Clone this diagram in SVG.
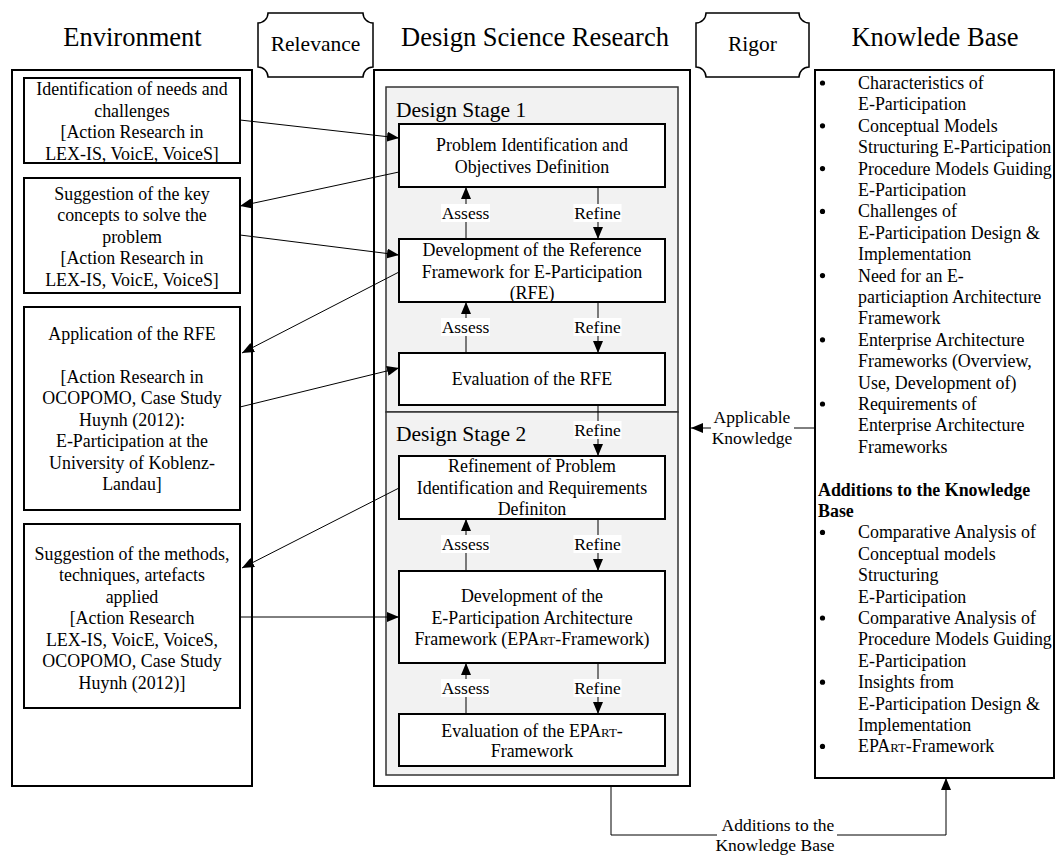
<svg xmlns="http://www.w3.org/2000/svg" width="1056" height="855" viewBox="0 0 1056 855">
  <style>
    .t { font-family: "Liberation Serif", "Times New Roman", serif; font-size: 17.9px; fill: #000; }
    .c { text-anchor: middle; }
    .h { font-size: 26.5px; }
    .s { font-size: 21.5px; }
    .l { font-size: 17.5px; }
    .b { font-weight: bold; }
    .sc { font-size: 12.9px; }
    .outer { fill: #fff; stroke: #000; stroke-width: 2; }
    .box { fill: #fff; stroke: #000; stroke-width: 2; }
    .stage { fill: #f2f2f2; stroke: #333; stroke-width: 1.5; }
    .plaque { fill: #fff; stroke: #000; stroke-width: 1.5; }
    .con { fill: none; stroke: #000; stroke-width: 1; }
    .arr { marker-end: url(#head); }
    .bg { fill: #fff; }
  </style>
  <defs>
    <marker id="head" markerUnits="userSpaceOnUse" markerWidth="12" markerHeight="10" refX="12" refY="5" orient="auto">
      <path d="M0,0 L12,5 L0,10 Z" fill="#000"/>
    </marker>
  </defs>

  <rect width="1056" height="855" fill="#fff"/>

  <!-- column headings -->
  <g id="headings">
    <text class="t h c" x="132.5" y="46">Environment</text>
    <text class="t h c" x="535" y="46">Design Science Research</text>
    <text class="t h c" x="935" y="46">Knowlede Base</text>
  </g>

  <!-- plaque labels between columns -->
  <g id="relevance">
    <path class="plaque" d="M268,13 L363,13 A10,10 0 0 0 373,23 L373,67 A10,10 0 0 0 363,77 L268,77 A10,10 0 0 0 258,67 L258,23 A10,10 0 0 0 268,13 Z"/>
    <text class="t s c" x="315.5" y="51">Relevance</text>
  </g>
  <g id="rigor">
    <path class="plaque" d="M706,13 L799,13 A10,10 0 0 0 809,23 L809,67 A10,10 0 0 0 799,77 L706,77 A10,10 0 0 0 696,67 L696,23 A10,10 0 0 0 706,13 Z"/>
    <text class="t s c" x="752.5" y="51">Rigor</text>
  </g>

  <!-- containers -->
  <g id="environment">
    <rect class="outer" x="12" y="70" width="240" height="716"/>
  </g>
  <g id="dsr">
    <rect class="outer" x="374" y="70" width="316" height="716"/>
  </g>
  <g id="stage1">
    <rect class="stage" x="386" y="87" width="292" height="325"/>
    <text class="t s" x="396" y="117">Design Stage 1</text>
  </g>
  <g id="stage2">
    <rect class="stage" x="386" y="412" width="292" height="363"/>
    <text class="t s" x="396" y="441">Design Stage 2</text>
  </g>

  <!-- connectors -->
  <g id="connectors">
    <path class="con arr" d="M240,120 L399,138"/>
    <path class="con arr" d="M399,172 L240,206"/>
    <path class="con arr" d="M240,235 L399,255"/>
    <path class="con arr" d="M399,272 L242,353"/>
    <path class="con arr" d="M240,407 L399,368"/>
    <path class="con arr" d="M399,488 L242,568"/>
    <path class="con arr" d="M240,617 L399,617"/>

    <path class="con arr" d="M466,239 L466,187"/>
    <path class="con arr" d="M598,187 L598,239"/>
    <path class="con arr" d="M466,353 L466,302"/>
    <path class="con arr" d="M598,302 L598,353"/>
    <path class="con arr" d="M598,405 L598,456"/>
    <path class="con arr" d="M466,571 L466,519"/>
    <path class="con arr" d="M598,519 L598,571"/>
    <path class="con arr" d="M466,714 L466,663"/>
    <path class="con arr" d="M598,663 L598,714"/>

    <path class="con arr" d="M815,428 L691,428"/>
    <path class="con arr" d="M611,786 L611,835 L946,835 L946,778"/>

    <!-- connector labels -->
    <rect class="bg" x="441" y="204" width="49" height="18"/>
    <text class="t l c" x="465.5" y="218.5">Assess</text>
    <rect class="bg" x="573.5" y="204" width="48" height="18"/>
    <text class="t l c" x="597.5" y="218.5">Refine</text>

    <rect class="bg" x="441" y="318" width="49" height="18"/>
    <text class="t l c" x="465.5" y="332.8">Assess</text>
    <rect class="bg" x="573.5" y="318" width="48" height="18"/>
    <text class="t l c" x="597.5" y="332.8">Refine</text>

    <rect class="bg" x="573.5" y="421" width="48" height="18"/>
    <text class="t l c" x="597.5" y="435.5">Refine</text>

    <rect class="bg" x="441" y="535" width="49" height="18"/>
    <text class="t l c" x="465.5" y="549.8">Assess</text>
    <rect class="bg" x="573.5" y="535" width="48" height="18"/>
    <text class="t l c" x="597.5" y="549.8">Refine</text>

    <rect class="bg" x="441" y="679" width="49" height="18"/>
    <text class="t l c" x="465.5" y="693.8">Assess</text>
    <rect class="bg" x="573.5" y="679" width="48" height="18"/>
    <text class="t l c" x="597.5" y="693.8">Refine</text>

    <rect class="bg" x="711" y="408" width="83" height="40"/>
    <text class="t l c" x="752" y="423">Applicable</text>
    <text class="t l c" x="752" y="443.5">Knowledge</text>

    <rect class="bg" x="717" y="815" width="120" height="40"/>
    <text class="t l c" x="778" y="830.5">Additions to the</text>
    <text class="t l c" x="775" y="851">Knowledge Base</text>
  </g>

  <!-- environment nodes -->
  <g id="env-needs">
    <rect class="box" x="24" y="78" width="216" height="85"/>
    <text class="t c" x="132" y="95">Identification of needs and</text>
    <text class="t c" x="132" y="116.5">challenges</text>
    <text class="t c" x="132" y="138">[Action Research in</text>
    <text class="t c" x="132" y="159.5">LEX-IS, VoicE, VoiceS]</text>
  </g>
  <g id="env-concepts">
    <rect class="box" x="24" y="178" width="216" height="115"/>
    <text class="t c" x="132" y="199.5">Suggestion of the key</text>
    <text class="t c" x="132" y="221">concepts to solve the</text>
    <text class="t c" x="132" y="242.5">problem</text>
    <text class="t c" x="132" y="264">[Action Research in</text>
    <text class="t c" x="132" y="285.5">LEX-IS, VoicE, VoiceS]</text>
  </g>
  <g id="env-application">
    <rect class="box" x="24" y="307" width="216" height="203"/>
    <text class="t c" x="132" y="339.5">Application of the RFE</text>
    <text class="t c" x="132" y="382.5">[Action Research in</text>
    <text class="t c" x="132" y="404">OCOPOMO, Case Study</text>
    <text class="t c" x="132" y="425.5">Huynh (2012):</text>
    <text class="t c" x="132" y="447">E-Participation at the</text>
    <text class="t c" x="132" y="468.5">University of Koblenz-</text>
    <text class="t c" x="132" y="490">Landau]</text>
  </g>
  <g id="env-methods">
    <rect class="box" x="24" y="524" width="216" height="184"/>
    <text class="t c" x="132" y="559.5">Suggestion of the methods,</text>
    <text class="t c" x="132" y="581">techniques, artefacts</text>
    <text class="t c" x="132" y="602.5">applied</text>
    <text class="t c" x="132" y="624">[Action Research</text>
    <text class="t c" x="132" y="645.5">LEX-IS, VoicE, VoiceS,</text>
    <text class="t c" x="132" y="667">OCOPOMO, Case Study</text>
    <text class="t c" x="132" y="688.5">Huynh (2012)]</text>
  </g>

  <!-- design science research nodes -->
  <g id="problem-identification">
    <rect class="box" x="399" y="124" width="266" height="63"/>
    <text class="t c" x="532" y="151">Problem Identification and</text>
    <text class="t c" x="532" y="172.5">Objectives Definition</text>
  </g>
  <g id="rfe-development">
    <rect class="box" x="399" y="239" width="266" height="63"/>
    <text class="t c" x="532" y="256">Development of the Reference</text>
    <text class="t c" x="532" y="277.5">Framework for E-Participation</text>
    <text class="t c" x="532" y="299">(RFE)</text>
  </g>
  <g id="rfe-evaluation">
    <rect class="box" x="399" y="353" width="266" height="52"/>
    <text class="t c" x="532" y="385">Evaluation of the RFE</text>
  </g>
  <g id="problem-refinement">
    <rect class="box" x="399" y="456" width="266" height="63"/>
    <text class="t c" x="532" y="472">Refinement of Problem</text>
    <text class="t c" x="532" y="493.5">Identification and Requirements</text>
    <text class="t c" x="532" y="515">Definiton</text>
  </g>
  <g id="epart-development">
    <rect class="box" x="399" y="571" width="266" height="92"/>
    <text class="t c" x="532" y="602">Development of the</text>
    <text class="t c" x="532" y="623.5">E-Participation Architecture</text>
    <text class="t c" x="532" y="645">Framework (EPA<tspan class="sc">RT</tspan>-Framework)</text>
  </g>
  <g id="epart-evaluation">
    <rect class="box" x="399" y="714" width="266" height="52"/>
    <text class="t c" x="532" y="736.5">Evaluation of the EPA<tspan class="sc">RT</tspan>-</text>
    <text class="t c" x="532" y="757">Framework</text>
  </g>

  <!-- knowledge base -->
  <g id="knowledge-base">
    <rect class="outer" x="815" y="70" width="239" height="708"/>
    <g fill="#000">
      <circle cx="822.5" cy="83" r="2.6"/>
      <circle cx="822.5" cy="125.8" r="2.6"/>
      <circle cx="822.5" cy="168.6" r="2.6"/>
      <circle cx="822.5" cy="211.4" r="2.6"/>
      <circle cx="822.5" cy="275.6" r="2.6"/>
      <circle cx="822.5" cy="339.8" r="2.6"/>
      <circle cx="822.5" cy="404" r="2.6"/>
      <circle cx="822.5" cy="532.4" r="2.6"/>
      <circle cx="822.5" cy="618" r="2.6"/>
      <circle cx="822.5" cy="682.2" r="2.6"/>
      <circle cx="822.5" cy="746.4" r="2.6"/>
    </g>
    <text class="t" x="858" y="89">Characteristics of</text>
    <text class="t" x="858" y="110.4">E-Participation</text>
    <text class="t" x="858" y="131.8">Conceptual Models</text>
    <text class="t" x="858" y="153.2">Structuring E-Participation</text>
    <text class="t" x="858" y="174.6">Procedure Models Guiding</text>
    <text class="t" x="858" y="196">E-Participation</text>
    <text class="t" x="858" y="217.4">Challenges of</text>
    <text class="t" x="858" y="238.8">E-Participation Design &amp;</text>
    <text class="t" x="858" y="260.2">Implementation</text>
    <text class="t" x="858" y="281.6">Need for an E-</text>
    <text class="t" x="858" y="303">particiaption Architecture</text>
    <text class="t" x="858" y="324.4">Framework</text>
    <text class="t" x="858" y="345.8">Enterprise Architecture</text>
    <text class="t" x="858" y="367.2">Frameworks (Overview,</text>
    <text class="t" x="858" y="388.6">Use, Development of)</text>
    <text class="t" x="858" y="410">Requirements of</text>
    <text class="t" x="858" y="431.4">Enterprise Architecture</text>
    <text class="t" x="858" y="452.8">Frameworks</text>
    <text class="t b" x="818" y="495.6">Additions to the Knowledge</text>
    <text class="t b" x="818" y="517">Base</text>
    <text class="t" x="858" y="538.4">Comparative Analysis of</text>
    <text class="t" x="858" y="559.8">Conceptual models</text>
    <text class="t" x="858" y="581.2">Structuring</text>
    <text class="t" x="858" y="602.6">E-Participation</text>
    <text class="t" x="858" y="624">Comparative Analysis of</text>
    <text class="t" x="858" y="645.4">Procedure Models Guiding</text>
    <text class="t" x="858" y="666.8">E-Participation</text>
    <text class="t" x="858" y="688.2">Insights from</text>
    <text class="t" x="858" y="709.6">E-Participation Design &amp;</text>
    <text class="t" x="858" y="731">Implementation</text>
    <text class="t" x="858" y="752.4">EPA<tspan class="sc">RT</tspan>-Framework</text>
  </g>
</svg>
